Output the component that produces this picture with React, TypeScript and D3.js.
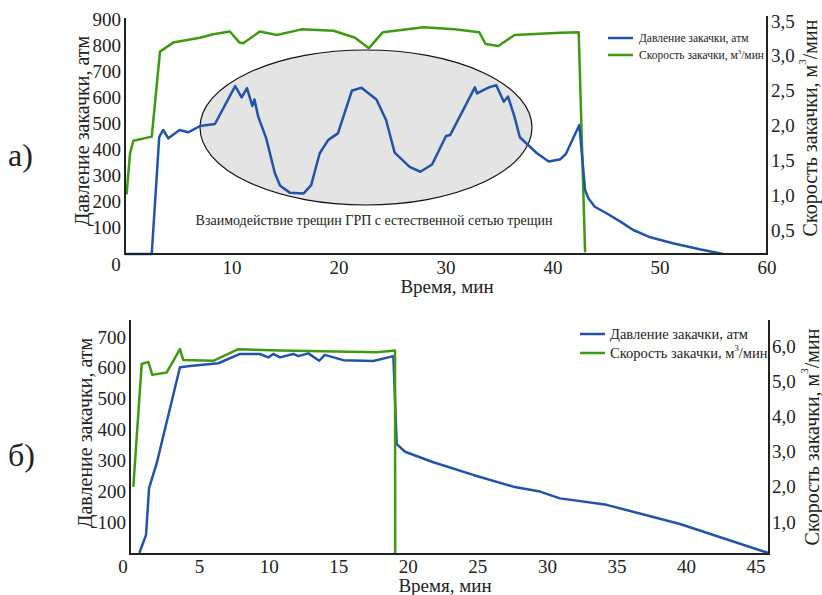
import React from "react";
import * as d3 from "d3";

// ---- Chart а) ----
const topPressTime = [0, 2.5, 3.2, 3.57, 4.05, 5.1, 5.9, 7.0, 8.4, 10.3, 10.9, 11.4, 11.9, 12.1, 12.45, 13.2, 14.0, 14.5, 15.4, 16.7, 17.4, 17.9, 18.2, 19.0, 19.9, 21.2, 22.1, 23.5, 24.4, 25.2, 26.6, 27.6, 28.7, 30.0, 30.4, 32.7, 32.9, 34.0, 34.7, 35.4, 35.8, 36.4, 36.9, 38.5, 39.6, 40.7, 41.2, 42.46, 43.0, 43.3, 43.9, 45.0, 46.3, 47.5, 49.1, 51.2, 53.7, 55.9];
const topPressure = [0, 0, 449, 475, 443, 475, 466, 490, 498, 643, 600, 635, 567, 592, 526, 443, 310, 261, 235, 232, 264, 341, 386, 437, 462, 625, 637, 592, 513, 388, 334, 315, 343, 452, 456, 638, 615, 638, 646, 583, 603, 526, 447, 386, 354, 363, 383, 494, 245, 214, 181, 156, 124, 92, 64, 41, 18, 0];
const topRateTime = [0.15, 0.47, 0.78, 2.5, 3.27, 4.5, 7.0, 8.25, 9.8, 10.7, 11.05, 12.6, 14.2, 16.5, 19.5, 21.5, 22.8, 24.1, 27.9, 30.8, 33.1, 33.7, 34.9, 36.4, 40.7, 42.4, 43.0];
const topRate = [1.01, 1.6, 1.78, 1.84, 3.06, 3.19, 3.26, 3.31, 3.35, 3.19, 3.18, 3.35, 3.3, 3.38, 3.36, 3.26, 3.11, 3.34, 3.41, 3.38, 3.34, 3.17, 3.14, 3.3, 3.33, 3.34, 0.18];
const topXTicks = [10, 20, 30, 40, 50, 60];
const topLeftTicks = [100, 200, 300, 400, 500, 600, 700, 800, 900];
const topRightTicks = [0.5, 1.0, 1.5, 2.0, 2.5, 3.0, 3.5];

// ---- Chart б) ----
const botPressTime = [0.67, 1.15, 1.37, 1.92, 3.59, 4.31, 6.35, 7.91, 9.34, 9.94, 10.3, 10.78, 11.74, 12.1, 12.82, 13.6, 14.0, 15.33, 17.49, 18.93, 19.17, 19.77, 21.8, 24.67, 27.55, 29.47, 30.9, 34.26, 39.53, 45.88];
const botPressure = [0, 58, 210, 291, 602, 606, 615, 645, 645, 634, 645, 634, 645, 638, 647, 623, 642, 625, 622, 638, 353, 328, 294, 253, 215, 199, 177, 156, 94, 0];
const botRateTime = [0.24, 0.84, 1.32, 1.6, 2.64, 3.59, 3.83, 5.99, 7.78, 10.78, 17.73, 19.05, 19.06];
const botRate = [2.0, 5.49, 5.55, 5.18, 5.25, 5.91, 5.6, 5.58, 5.91, 5.87, 5.82, 5.87, 0.09];
const botXTicks = [5, 10, 15, 20, 25, 30, 35, 40, 45];
const botLeftTicks = [100, 200, 300, 400, 500, 600, 700];
const botRightTicks = [1, 2, 3, 4, 5, 6];

const legendLabels = ["Давление закачки, атм", "Скорость закачки, м", "/мин"];
const ellipseLabel = "Взаимодействие трещин ГРП с естественной сетью трещин";
const axisTitles = ["Время, мин", "Давление закачки, атм", "Скорость закачки, м"];

const BLUE = "#2353a6";
const GREEN = "#3f9a12";
const INK = "#222";
const f = (s: number) => ({ font: `${s}px "Liberation Serif"` });

const fmt = (v: number) => d3.format(".1f")(v).replace(".", ",");

function RateTitle({ x, y }: { x: number; y: number }) {
  return (
    <text transform={`translate(${x},${y}) rotate(-90)`} style={f(20)} fill={INK} textAnchor="middle" dominantBaseline="central">
      {axisTitles[2]}
      <tspan style={f(11)} dy={-8}>3</tspan>
      <tspan style={f(20)} dy={8}>{legendLabels[2]}</tspan>
    </text>
  );
}

function LegendRate({ x, y, size }: { x: number; y: number; size: number }) {
  return (
    <text x={x} y={y} style={f(size)} fill={INK} dominantBaseline="central">
      {legendLabels[1]}
      <tspan style={f(size * 0.6)} dy={-size * 0.35}>3</tspan>
      <tspan style={f(size)} dy={size * 0.35}>{legendLabels[2]}</tspan>
    </text>
  );
}

export default function App() {
  const tx = d3.scaleLinear().domain([0, 60]).range([125, 767]);
  const tyL = d3.scaleLinear().domain([0, 900]).range([254, 19]);
  const tyR = d3.scaleLinear().domain([0.5, 3.5]).range([230, 21]);
  const bx = d3.scaleLinear().domain([0, 46]).range([130, 770]);
  const byL = d3.scaleLinear().domain([0, 700]).range([553, 337]);
  const byR = d3.scaleLinear().domain([1, 6]).range([522, 346]);

  const mk = (xs: number[], ys: number[], sx: any, sy: any) =>
    d3.line<number>().x((_, i) => sx(xs[i])).y((d) => sy(d))(ys) as string;

  const topBlue = mk(topPressTime, topPressure, tx, tyL);
  const topGreen = mk(topRateTime, topRate, tx, tyR);
  const botBlue = mk(botPressTime, botPressure, bx, byL);
  const botGreen = mk(botRateTime, botRate, bx, byR);

  return (
    <svg width={822} height={595} style={{ position: "absolute", left: 0, top: 0, background: "#fff" }}>
      <rect width={822} height={595} fill="#fff" />
      {/* ===== Chart а) ===== */}
      <text x={8} y={155} style={f(32)} fill={INK} dominantBaseline="central">а)</text>
      <ellipse cx={366} cy={127.5} rx={166} ry={77.5} fill="#e4e4e4" stroke="#111" strokeWidth={1.2} />
      <text x={374} y={220} style={f(14)} fill={INK} textAnchor="middle" dominantBaseline="central">{ellipseLabel}</text>
      <path d={topGreen} fill="none" stroke={GREEN} strokeWidth={2.5} strokeLinejoin="round" />
      <path d={topBlue} fill="none" stroke={BLUE} strokeWidth={2.5} strokeLinejoin="round" />
      <line x1={125} x2={125} y1={18} y2={255} stroke={INK} strokeWidth={2} />
      <line x1={124} x2={768} y1={254} y2={254} stroke={INK} strokeWidth={2} />
      <line x1={767} x2={767} y1={16} y2={255} stroke={INK} strokeWidth={2} />
      {topLeftTicks.map((t) => (
        <text key={"tl" + t} x={121} y={tyL(t)} style={f(19)} fill={INK} textAnchor="end" dominantBaseline="central">{t}</text>
      ))}
      <text x={116} y={264} style={f(19)} fill={INK} textAnchor="middle" dominantBaseline="central">0</text>
      {topXTicks.map((t) => (
        <text key={"tx" + t} x={tx(t)} y={267} style={f(19)} fill={INK} textAnchor="middle" dominantBaseline="central">{t}</text>
      ))}
      {topRightTicks.map((t) => (
        <text key={"tr" + t} x={771} y={tyR(t)} style={f(19)} fill={INK} textAnchor="start" dominantBaseline="central">{fmt(t)}</text>
      ))}
      <text x={447} y={286} style={f(19)} fill={INK} textAnchor="middle" dominantBaseline="central">{axisTitles[0]}</text>
      <text transform="translate(82,131) rotate(-90)" style={f(20)} fill={INK} textAnchor="middle" dominantBaseline="central">{axisTitles[1]}</text>
      <RateTitle x={810} y={128} />
      <line x1={608} x2={633} y1={38} y2={38} stroke={BLUE} strokeWidth={2.5} />
      <line x1={608} x2={633} y1={55} y2={55} stroke={GREEN} strokeWidth={2.5} />
      <text x={639} y={38} style={f(11.5)} fill={INK} dominantBaseline="central">{legendLabels[0]}</text>
      <LegendRate x={639} y={55} size={11.5} />

      {/* ===== Chart б) ===== */}
      <text x={8} y={455} style={f(32)} fill={INK} dominantBaseline="central">б)</text>
      <path d={botBlue} fill="none" stroke={BLUE} strokeWidth={2.5} strokeLinejoin="round" />
      <path d={botGreen} fill="none" stroke={GREEN} strokeWidth={2.5} strokeLinejoin="round" />
      <line x1={130} x2={130} y1={320} y2={555} stroke={INK} strokeWidth={2} />
      <line x1={129} x2={770} y1={554} y2={554} stroke={INK} strokeWidth={2} />
      <line x1={769} x2={769} y1={320} y2={555} stroke={INK} strokeWidth={2} />
      {botLeftTicks.map((t) => (
        <text key={"bl" + t} x={126} y={byL(t)} style={f(19)} fill={INK} textAnchor="end" dominantBaseline="central">{t}</text>
      ))}
      <text x={123} y={566} style={f(19)} fill={INK} textAnchor="middle" dominantBaseline="central">0</text>
      {botXTicks.map((t) => (
        <text key={"bx" + t} x={bx(t)} y={566} style={f(19)} fill={INK} textAnchor="middle" dominantBaseline="central">{t}</text>
      ))}
      {botRightTicks.map((t) => (
        <text key={"br" + t} x={772} y={byR(t)} style={f(19)} fill={INK} textAnchor="start" dominantBaseline="central">{fmt(t)}</text>
      ))}
      <text x={445} y={585} style={f(19)} fill={INK} textAnchor="middle" dominantBaseline="central">{axisTitles[0]}</text>
      <text transform="translate(85,433) rotate(-90)" style={f(20)} fill={INK} textAnchor="middle" dominantBaseline="central">{axisTitles[1]}</text>
      <RateTitle x={812} y={437} />
      <line x1={580} x2={605} y1={334} y2={334} stroke={BLUE} strokeWidth={2.5} />
      <line x1={580} x2={605} y1={353} y2={353} stroke={GREEN} strokeWidth={2.5} />
      <text x={610} y={334} style={f(14.5)} fill={INK} dominantBaseline="central">{legendLabels[0]}</text>
      <LegendRate x={610} y={353} size={14.5} />
    </svg>
  );
}
